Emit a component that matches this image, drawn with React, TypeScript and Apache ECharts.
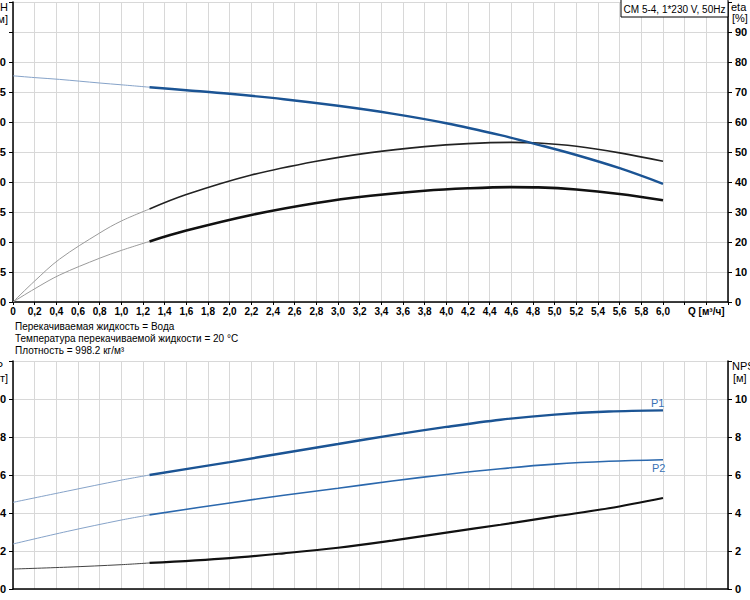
import React, { useEffect, useRef } from "react";
import * as echarts from "echarts";

// ---------- data ----------
// Flow Q [m³/h] (top chart)
const qThin = [0, 0.2, 0.43, 0.8, 1.0, 1.26];
const qHead = [1.26, 1.6, 2.0, 2.5, 3.0, 3.5, 4.0, 4.5, 4.85, 5.2, 5.6, 6.0];
const qEta = [1.26, 1.6, 2.2, 2.8, 3.3, 3.8, 4.2, 4.6, 4.85, 5.2, 5.6, 6.0];
// Head H [m]
const headThin = [37.7, 37.4, 37.1, 36.5, 36.2, 35.8];
const headSolid = [35.8, 35.3, 34.7, 33.8, 32.7, 31.4, 29.8, 27.8, 26.2, 24.5, 22.3, 19.7];
// Efficiency (pump) [%]
const etaPumpThin = [0, 7.0, 14.3, 23.0, 27.0, 31.0];
const etaPumpSolid = [31.0, 35.8, 42.3, 46.9, 49.8, 51.8, 52.8, 53.2, 53.0, 51.9, 49.7, 46.9];
// Efficiency (total) [%]
const etaTotalThin = [0, 4.4, 9.0, 14.6, 17.2, 20.2];
const etaTotalSolid = [20.2, 23.8, 29.0, 33.0, 35.4, 37.1, 37.9, 38.3, 38.2, 37.5, 36.0, 33.9];

// Bottom chart
const qThin2 = [0, 0.5, 1.0, 1.26];
const qSolid2 = [1.26, 2.0, 2.5, 3.0, 3.5, 4.0, 4.5, 5.0, 5.5, 6.0];
// Power [kW]
const p1Thin = [0.456, 0.515, 0.573, 0.6];
const p1Solid = [0.6, 0.668, 0.716, 0.763, 0.81, 0.853, 0.891, 0.918, 0.934, 0.94];
const p2Thin = [0.237, 0.303, 0.363, 0.39];
const p2Solid = [0.39, 0.453, 0.493, 0.53, 0.568, 0.603, 0.633, 0.657, 0.672, 0.68];
// NPSH [m]
const npshThin = [1.05, 1.15, 1.28, 1.37];
const npshSolid = [1.37, 1.63, 1.88, 2.17, 2.55, 2.97, 3.38, 3.82, 4.25, 4.79];

const textLines = [
  "Перекачиваемая жидкость = Вода",
  "Температура перекачиваемой жидкости = 20 °C",
  "Плотность = 998.2 кг/м³",
];
const titleText = "CM 5-4, 1*230 V, 50Hz";
const qAxisName = "Q [м³/ч]";

// ---------- helpers ----------
const FONT = 'Arial, "Liberation Sans", sans-serif';
const pairs = (xs: number[], ys: number[]) => xs.map((x, i) => [x, ys[i]]);
const comma = (v: number) => (v === 0 ? "0" : v.toFixed(1).replace(".", ","));

const BLUE = "#1b5494";
const BLUE2 = "#2b68ad";
const THIN_BLUE = "#86a3c9";
const THIN_GRAY = "#9a9a9a";
const GRID_COLOR = "#d8d8d8";

export default function App() {
  const ref = useRef<HTMLDivElement>(null);

  useEffect(() => {
    if (!ref.current) return;
    const chart = echarts.init(ref.current, undefined, { renderer: "svg" });

    const yLabel = { color: "#000", fontSize: 11, fontWeight: "bold", fontFamily: FONT };
    const xLabel = { color: "#000", fontSize: 10, fontWeight: "bold", fontFamily: FONT };
    const xBase = {
      type: "value" as const,
      min: 0,
      max: 6.6,
      interval: 0.2,
      axisLine: { show: true, onZero: false, lineStyle: { color: "#000", width: 1.5 } },
      splitLine: { show: true, lineStyle: { color: GRID_COLOR, width: 1 } },
    };

    const line = (
      data: any[],
      xi: number,
      yi: number,
      color: string,
      width: number,
      extra: any = {}
    ) => ({
      type: "line",
      xAxisIndex: xi,
      yAxisIndex: yi,
      data,
      smooth: 0.35,
      showSymbol: false,
      symbol: "none",
      lineStyle: { color, width },
      itemStyle: { color },
      z: 3,
      ...extra,
    });

    const endLabel = (text: string, offset: number[]) => ({
      endLabel: {
        show: true,
        formatter: text,
        offset,
        color: "#3a72b5",
        fontSize: 11,
        fontFamily: FONT,
      },
    });

    const titleStyle = (text: string, align: string) => ({
      text,
      align,
      verticalAlign: "middle",
      fill: "#000",
      font: `11px ${FONT}`,
    });

    const option: any = {
      animation: false,
      backgroundColor: "#fff",
      grid: [
        { left: 13, right: 22, top: 2, height: 300, containLabel: false, outerBoundsMode: "none" },
        { left: 13, right: 22, top: 361, height: 228, containLabel: false, outerBoundsMode: "none" },
      ],
      xAxis: [
        {
          ...xBase,
          gridIndex: 0,
          axisTick: { show: true, length: 3, lineStyle: { color: "#000" } },
          axisLabel: {
            ...xLabel,
            margin: 4,
            formatter: (v: number) => {
              const r = Math.round(v * 10) / 10;
              if (Math.abs(r - 6.4) < 1e-6) return qAxisName;
              if (r > 6.05) return "";
              return comma(r);
            },
          },
        },
        {
          ...xBase,
          gridIndex: 1,
          axisTick: { show: false },
          axisLabel: { show: false },
        },
      ],
      yAxis: [
        {
          type: "value",
          gridIndex: 0,
          position: "left",
          min: 0,
          max: 50,
          interval: 5,
          axisLine: { show: true, lineStyle: { color: "#000", width: 1.5 } },
          axisTick: { show: true, length: 4, lineStyle: { color: "#000" } },
          axisLabel: { ...yLabel, margin: 7, formatter: (v: number) => (v <= 40 ? String(v) : "") },
          splitLine: { show: true, lineStyle: { color: GRID_COLOR, width: 1 } },
        },
        {
          type: "value",
          gridIndex: 0,
          position: "right",
          min: 0,
          max: 100,
          interval: 10,
          axisLine: { show: true, lineStyle: { color: "#000", width: 1.5 } },
          axisTick: { show: true, length: 4, lineStyle: { color: "#000" } },
          axisLabel: { ...yLabel, margin: 7, formatter: (v: number) => (v <= 90 ? String(v) : "") },
          splitLine: { show: false },
        },
        {
          type: "value",
          gridIndex: 1,
          position: "left",
          min: 0,
          max: 1.2,
          interval: 0.2,
          axisLine: { show: true, lineStyle: { color: "#000", width: 1.5 } },
          axisTick: { show: true, length: 4, lineStyle: { color: "#000" } },
          axisLabel: {
            ...yLabel,
            margin: 7,
            formatter: (v: number) => (v <= 1.0001 ? comma(Math.round(v * 10) / 10) : ""),
          },
          splitLine: { show: true, lineStyle: { color: GRID_COLOR, width: 1 } },
        },
        {
          type: "value",
          gridIndex: 1,
          position: "right",
          min: 0,
          max: 12,
          interval: 2,
          axisLine: { show: true, lineStyle: { color: "#000", width: 1.5 } },
          axisTick: { show: true, length: 4, lineStyle: { color: "#000" } },
          axisLabel: { ...yLabel, margin: 7, formatter: (v: number) => (v <= 10 ? String(v) : "") },
          splitLine: { show: false },
        },
      ],
      series: [
        // top chart
        line(pairs(qThin, headThin), 0, 0, THIN_BLUE, 1),
        line(pairs(qThin, etaPumpThin), 0, 1, THIN_GRAY, 1),
        line(pairs(qThin, etaTotalThin), 0, 1, THIN_GRAY, 1),
        line(pairs(qEta, etaPumpSolid), 0, 1, "#222", 1.6),
        line(pairs(qEta, etaTotalSolid), 0, 1, "#111", 2.6),
        line(pairs(qHead, headSolid), 0, 0, BLUE, 2.4),
        // bottom chart
        line(pairs(qThin2, p1Thin), 1, 2, THIN_BLUE, 1),
        line(pairs(qThin2, p2Thin), 1, 2, THIN_BLUE, 1),
        line(pairs(qThin2, npshThin), 1, 3, "#444", 1),
        line(pairs(qSolid2, p1Solid), 1, 2, BLUE, 2.4, endLabel("P1", [-20, -7])),
        line(pairs(qSolid2, p2Solid), 1, 2, BLUE2, 1.6, endLabel("P2", [-19, 8])),
        line(pairs(qSolid2, npshSolid), 1, 3, "#111", 2.2),
      ],
      graphic: [
        // axis titles
        { type: "text", x: 8, y: 7, style: titleStyle("H", "right") },
        { type: "text", x: 8, y: 19, style: titleStyle("[м]", "right") },
        { type: "text", x: 731, y: 7, style: titleStyle("eta", "left") },
        { type: "text", x: 732, y: 18, style: titleStyle("[%]", "left") },
        { type: "text", x: 3, y: 366, style: titleStyle("P", "right") },
        { type: "text", x: 8, y: 378, style: titleStyle("[кВт]", "right") },
        { type: "text", x: 732, y: 366, style: titleStyle("NPSH", "left") },
        { type: "text", x: 733, y: 378, style: titleStyle("[м]", "left") },
        // title box
        {
          type: "rect",
          shape: { x: 621, y: -1, width: 107, height: 18 },
          style: { fill: "#fff", stroke: "#000", lineWidth: 1 },
          z: 10,
        },
        {
          type: "text",
          x: 674.5,
          y: 9,
          z: 11,
          style: { text: titleText, align: "center", verticalAlign: "middle", fill: "#000", font: `10px ${FONT}` },
        },
        // fluid info
        ...textLines.map((t, i) => ({
          type: "text",
          x: 15,
          y: 326 + i * 12,
          style: { text: t, align: "left", verticalAlign: "middle", fill: "#000", font: `10px ${FONT}` },
        })),
      ],
    };

    chart.setOption(option);
    return () => chart.dispose();
  }, []);

  return (
    <div
      ref={ref}
      style={{ position: "absolute", left: 0, top: 0, width: 750, height: 600, background: "#fff" }}
    />
  );
}
